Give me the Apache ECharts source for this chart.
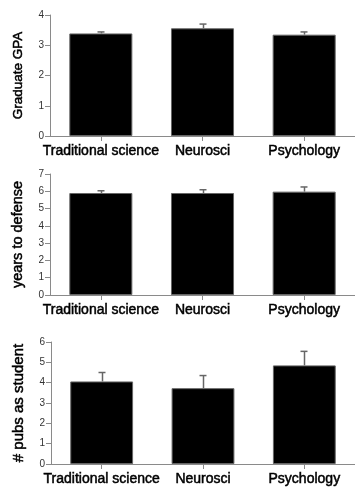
<!DOCTYPE html>
<html><head><meta charset="utf-8">
<script src="https://cdn.jsdelivr.net/npm/echarts@6/dist/echarts.min.js"></script>
<style>html,body{margin:0;padding:0;background:#fff}#c{width:355px;height:493px}</style>
</head><body><div id="c"></div>
<script>
const categories = ['Traditional science', 'Neurosci', 'Psychology'];
const gpaMean = [3.39, 3.56, 3.35];
const gpaErr = [0.05, 0.14, 0.09];
const yearsMean = [5.90, 5.90, 5.98];
const yearsErr = [0.13, 0.19, 0.27];
const pubsMean = [4.06, 3.73, 4.85];
const pubsErr = [0.44, 0.62, 0.69];
const panelTitles = ['Graduate GPA', 'years to defense', '# pubs as student'];
const panelMax = [4, 7, 6];

const chart = echarts.init(document.getElementById('c'), null, {renderer: 'canvas'});
const means = [gpaMean, yearsMean, pubsMean];
const errs = [gpaErr, yearsErr, pubsErr];
const grids = [
  {left: 50, top: 15, width: 311, height: 121},
  {left: 50, top: 174, width: 311, height: 121},
  {left: 51, top: 342, width: 311, height: 122}
];
const nameSizes = [13.5, 14.5, 15];
const axisCol = '#8a8a8a';
const xAxes = [], yAxes = [], series = [];
for (let i = 0; i < 3; i++) {
  xAxes.push({
    gridIndex: i, type: 'category', data: categories,
    axisLine: {lineStyle: {color: axisCol, width: 1}},
    axisTick: {show: true, alignWithLabel: true, length: 5, lineStyle: {color: axisCol}},
    axisLabel: {color: '#000', fontSize: 14, fontFamily: 'Liberation Sans, Arial', margin: 8, interval: 0,
      textBorderColor: '#000', textBorderWidth: 0.5}
  });
  yAxes.push({
    gridIndex: i, type: 'value', min: 0, max: panelMax[i], interval: 1,
    name: panelTitles[i], nameLocation: 'middle', nameRotate: 90, nameGap: 25,
    nameTextStyle: {color: '#000', fontSize: nameSizes[i], fontFamily: 'Liberation Sans, Arial',
      textBorderColor: '#000', textBorderWidth: 0.5},
    axisLine: {show: true, lineStyle: {color: axisCol, width: 1}},
    axisTick: {show: true, length: 5, lineStyle: {color: axisCol}},
    axisLabel: {color: '#333', fontSize: 10, fontFamily: 'Liberation Sans, Arial', margin: 6},
    splitLine: {show: false}
  });
  series.push({
    type: 'bar', xAxisIndex: i, yAxisIndex: i, data: means[i], barWidth: '62%',
    itemStyle: {color: '#000', borderColor: '#666', borderWidth: 1}, silent: true
  });
  const ed = means[i].map((m, k) => [k, m, m + errs[i][k]]);
  series.push({
    type: 'custom', xAxisIndex: i, yAxisIndex: i, data: ed, silent: true, z: 5,
    renderItem: function (params, api) {
      const base = api.coord([api.value(0), api.value(1)]);
      const top = api.coord([api.value(0), api.value(2)]);
      const x = Math.round(base[0]) + 0.5;
      const st = {stroke: '#666', lineWidth: 1.5};
      return {type: 'group', children: [
        {type: 'line', shape: {x1: x, y1: base[1], x2: x, y2: top[1]}, style: st},
        {type: 'line', shape: {x1: x - 4, y1: top[1], x2: x + 3, y2: top[1]}, style: st}
      ]};
    }
  });
}
chart.setOption({
  animation: false,
  grid: grids.map(g => Object.assign({containLabel: false}, g)),
  xAxis: xAxes, yAxis: yAxes, series: series
});
</script></body></html>
